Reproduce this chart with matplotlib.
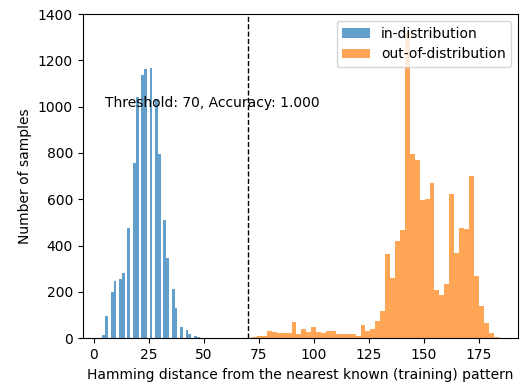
import numpy as np
import matplotlib
matplotlib.use("Agg")
import matplotlib.pyplot as plt

# in-distribution: hamming distances (even values) and how often each occurs
in_dist_values = [4, 6, 8, 10, 12, 14, 16, 18, 20, 22, 24, 26, 28,
                  30, 32, 34, 36, 38, 40, 42, 44, 46, 48, 50, 52]
in_dist_counts = [15, 96, 201, 247, 257, 280, 475, 758, 1040, 1137, 1161, 1166, 1032,
                  796, 511, 345, 211, 132, 50, 38, 19, 10, 6, 3, 1]

# out-of-distribution: counts per histogram bin (50 bins between 72 and 184)
ood_counts = [4, 8, 11, 30, 28, 24, 24, 24, 72, 20,
              42, 27, 47, 26, 24, 30, 33, 20, 20, 19,
              19, 12, 56, 30, 42, 76, 118, 364, 260, 421,
              468, 1317, 795, 770, 597, 600, 669, 209, 185, 235,
              623, 370, 475, 473, 702, 270, 139, 67, 24, 7]

threshold = 70
accuracy = 1.0

fig = plt.figure(figsize=(5.29, 3.89), dpi=100)
ax = fig.add_axes([0.1563, 0.1303, 0.8235, 0.8337])

ax.hist(in_dist_values, bins=50, range=(4, 67), weights=in_dist_counts,
        alpha=0.7, label='in-distribution')
ood_edges = np.linspace(72, 184, len(ood_counts) + 1)
ax.hist(ood_edges[:-1], bins=ood_edges, weights=ood_counts,
        alpha=0.7, label='out-of-distribution')

ax.axvline(threshold, color='k', linestyle='--', linewidth=1)
ax.text(5, 1000, 'Threshold: %d, Accuracy: %.3f' % (threshold, accuracy), fontsize=10)

ax.set_ylim(0, 1400)
ax.set_xlabel('Hamming distance from the nearest known (training) pattern')
ax.set_ylabel('Number of samples')
ax.legend(loc='upper right')

fig.savefig('out.png', dpi=100)
